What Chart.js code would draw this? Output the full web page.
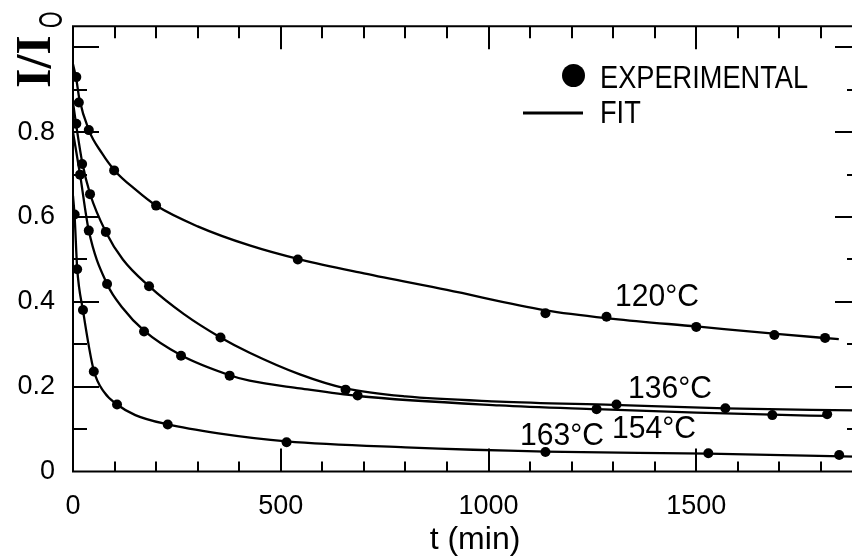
<!DOCTYPE html>
<html>
<head>
<meta charset="utf-8">
<title>I/I0 decay</title>
<script src="https://cdn.jsdelivr.net/npm/chart.js@4.4.1/dist/chart.umd.min.js"></script>
<style>
  html, body { margin: 0; padding: 0; background: #fff; overflow: hidden; }
  #wrap { width: 860px; height: 558px; }
</style>
</head>
<body>
<div id="wrap"><canvas id="decay" width="860" height="558"></canvas></div>
<script>
// measured points (t in min, I/I0)
const t120 = [8, 14, 38, 99, 200, 541, 1137, 1284, 1500, 1688, 1810];
const i120 = [0.93, 0.87, 0.805, 0.71, 0.627, 0.50, 0.373, 0.365, 0.341, 0.322, 0.315];
const t136 = [8, 22, 41, 79, 183, 355, 656, 1308, 1570];
const i136 = [0.82, 0.725, 0.654, 0.565, 0.437, 0.316, 0.193, 0.158, 0.149];
const t154 = [17, 38, 82, 171, 260, 377, 685, 1260, 1683, 1815];
const i154 = [0.70, 0.568, 0.442, 0.33, 0.273, 0.226, 0.179, 0.147, 0.133, 0.135];
const t163 = [4, 10, 24, 50, 106, 228, 514, 1137, 1529, 1844];
const i163 = [0.606, 0.477, 0.381, 0.236, 0.158, 0.111, 0.069, 0.046, 0.043, 0.039];

// fitted curves
const fitT120 = [0, 8, 15, 38, 70, 100, 150, 200, 300, 425, 546, 700, 900, 1137, 1300, 1500, 1700, 1843];
const fitI120 = [0.96, 0.925, 0.88, 0.805, 0.75, 0.71, 0.665, 0.627, 0.578, 0.533, 0.50, 0.467, 0.428, 0.38, 0.36, 0.342, 0.324, 0.312];
const fitT136 = [0, 8, 22, 41, 79, 120, 183, 267, 355, 425, 546, 656, 800, 1026, 1300, 1570, 1882];
const fitI136 = [0.87, 0.815, 0.73, 0.655, 0.565, 0.50, 0.437, 0.371, 0.316, 0.28, 0.229, 0.196, 0.177, 0.165, 0.157, 0.149, 0.144];
const fitT154 = [0, 17, 38, 82, 120, 171, 260, 377, 425, 546, 685, 1026, 1260, 1500, 1683, 1815];
const fitI154 = [0.80, 0.70, 0.568, 0.442, 0.385, 0.332, 0.274, 0.227, 0.214, 0.196, 0.178, 0.156, 0.147, 0.139, 0.134, 0.131];
const fitT163 = [0, 4, 10, 24, 50, 75, 106, 150, 228, 350, 514, 800, 1137, 1529, 1882];
const fitI163 = [0.65, 0.60, 0.48, 0.38, 0.238, 0.187, 0.158, 0.133, 0.111, 0.09, 0.071, 0.057, 0.047, 0.042, 0.035];

// axis ticks
const xTickValues = [0, 500, 1000, 1500];
const yTickValues = [0, 0.2, 0.4, 0.6, 0.8];
const xMarks = [100, 200, 300, 400, 500, 600, 700, 800, 900, 1000, 1100, 1200, 1300, 1400, 1500, 1600, 1700, 1800];
const xMajor = [500, 1000, 1500];
const yMarks = [0.1, 0.2, 0.3, 0.4, 0.5, 0.6, 0.7, 0.8, 0.9, 1.0];
const yMajor = [0.2, 0.4, 0.6, 0.8, 1.0];

const curveLabels = [
  { text: "120°C", x: 615, y: 306 },
  { text: "136°C", x: 628, y: 398 },
  { text: "154°C", x: 612, y: 438 },
  { text: "163°C", x: 520, y: 445 }
];

Chart.defaults.font.family = "'Liberation Sans', Arial, sans-serif";
Chart.defaults.color = "#000";

function pairs(xs, ys) {
  return xs.map((v, i) => ({ x: v, y: ys[i] }));
}

function fitSet(xs, ys) {
  return {
    type: "line",
    data: pairs(xs, ys),
    borderColor: "#000",
    borderWidth: 2.3,
    pointRadius: 0,
    fill: false,
    cubicInterpolationMode: "monotone"
  };
}

function pointSet(xs, ys) {
  return {
    type: "scatter",
    data: pairs(xs, ys),
    backgroundColor: "#000",
    borderColor: "#000",
    borderWidth: 0,
    pointRadius: 5,
    pointHoverRadius: 5
  };
}

// box, inward tick marks on all four sides
const frameTicks = {
  id: "frameTicks",
  afterDraw(chart) {
    const { ctx, chartArea: a, scales: { x, y } } = chart;
    ctx.save();
    ctx.strokeStyle = "#000";
    ctx.lineWidth = 2;
    ctx.beginPath();
    ctx.moveTo(a.right, a.top);
    ctx.lineTo(a.left, a.top);
    ctx.lineTo(a.left, a.bottom);
    ctx.lineTo(a.right, a.bottom);
    ctx.lineTo(a.right, a.top);
    ctx.stroke();

    ctx.beginPath();
    xMarks.forEach(v => {
      const px = Math.round(x.getPixelForValue(v));
      const big = xMajor.includes(v);
      ctx.moveTo(px, a.bottom);
      ctx.lineTo(px, a.bottom - (big ? 23 : 10));
      ctx.moveTo(px, a.top);
      ctx.lineTo(px, a.top + (big ? 23 : 12));
    });
    yMarks.forEach(v => {
      const py = Math.round(y.getPixelForValue(v));
      const big = yMajor.includes(v);
      ctx.moveTo(a.left, py);
      ctx.lineTo(a.left + (big ? 26 : 14), py);
      ctx.moveTo(a.right, py);
      ctx.lineTo(a.right - (big ? 20 : 8), py);
    });
    ctx.stroke();
    ctx.restore();
  }
};

// legend, curve labels and axis titles
const annotations = {
  id: "annotations",
  afterDraw(chart) {
    const { ctx } = chart;
    ctx.save();
    ctx.fillStyle = "#000";
    ctx.strokeStyle = "#000";

    // legend
    ctx.beginPath();
    ctx.arc(573.5, 75.5, 11.5, 0, Math.PI * 2);
    ctx.fill();
    ctx.lineWidth = 3;
    ctx.beginPath();
    ctx.moveTo(523, 113);
    ctx.lineTo(583, 113);
    ctx.stroke();

    ctx.textBaseline = "alphabetic";
    ctx.textAlign = "left";
    ctx.font = "32px 'Liberation Sans', Arial, sans-serif";
    [["EXPERIMENTAL", 600, 88], ["FIT", 600, 123]].forEach(([s, lx, ly]) => {
      ctx.save();
      ctx.translate(lx, ly);
      ctx.scale(0.85, 1);
      ctx.fillText(s, 0, 0);
      ctx.restore();
    });

    curveLabels.forEach(l => {
      ctx.save();
      ctx.translate(l.x, l.y);
      ctx.scale(0.94, 1);
      ctx.fillText(l.text, 0, 0);
      ctx.restore();
    });

    // x title
    ctx.textAlign = "center";
    ctx.textBaseline = "middle";
    ctx.font = "32px 'Liberation Sans', Arial, sans-serif";
    ctx.fillText("t (min)", 475, 540);

    // y title I/Io, rotated
    ctx.save();
    ctx.translate(50, 88);
    ctx.rotate(-Math.PI / 2);
    ctx.textAlign = "left";
    ctx.textBaseline = "alphabetic";
    ctx.font = "bold 50px 'Liberation Serif', 'Times New Roman', serif";
    ctx.fillText("I/I", 0, 0);
    ctx.translate(60, 12);
    ctx.scale(0.62, 1);
    ctx.font = "34px 'Liberation Sans', Arial, sans-serif";
    ctx.fillText("O", 0, 0);
    ctx.restore();

    ctx.restore();
  }
};

new Chart(document.getElementById("decay"), {
  type: "scatter",
  data: {
    datasets: [
      fitSet(fitT120, fitI120),
      fitSet(fitT136, fitI136),
      fitSet(fitT154, fitI154),
      fitSet(fitT163, fitI163),
      pointSet(t120, i120),
      pointSet(t136, i136),
      pointSet(t154, i154),
      pointSet(t163, i163)
    ]
  },
  options: {
    responsive: false,
    animation: false,
    devicePixelRatio: 1,
    layout: { padding: { top: 22.6, right: 4, bottom: 0, left: 0 } },
    plugins: {
      legend: { display: false },
      tooltip: { enabled: false }
    },
    scales: {
      x: {
        type: "linear",
        min: 0,
        max: 1882,
        grid: { display: false },
        border: { display: false },
        afterBuildTicks: s => { s.ticks = xTickValues.map(v => ({ value: v })); },
        afterFit: s => { s.height = 86.5; },
        ticks: {
          font: { size: 27 },
          color: "#000",
          padding: 11,
          maxRotation: 0,
          callback: v => String(v)
        }
      },
      y: {
        type: "linear",
        min: 0,
        max: 1.05,
        grid: { display: false },
        border: { display: false },
        afterBuildTicks: s => { s.ticks = yTickValues.map(v => ({ value: v })); },
        afterFit: s => { s.width = 73; },
        ticks: {
          font: { size: 27 },
          color: "#000",
          padding: 10,
          callback: v => (v === 0 ? "0" : v.toFixed(1))
        }
      }
    }
  },
  plugins: [frameTicks, annotations]
});
</script>
</body>
</html>
